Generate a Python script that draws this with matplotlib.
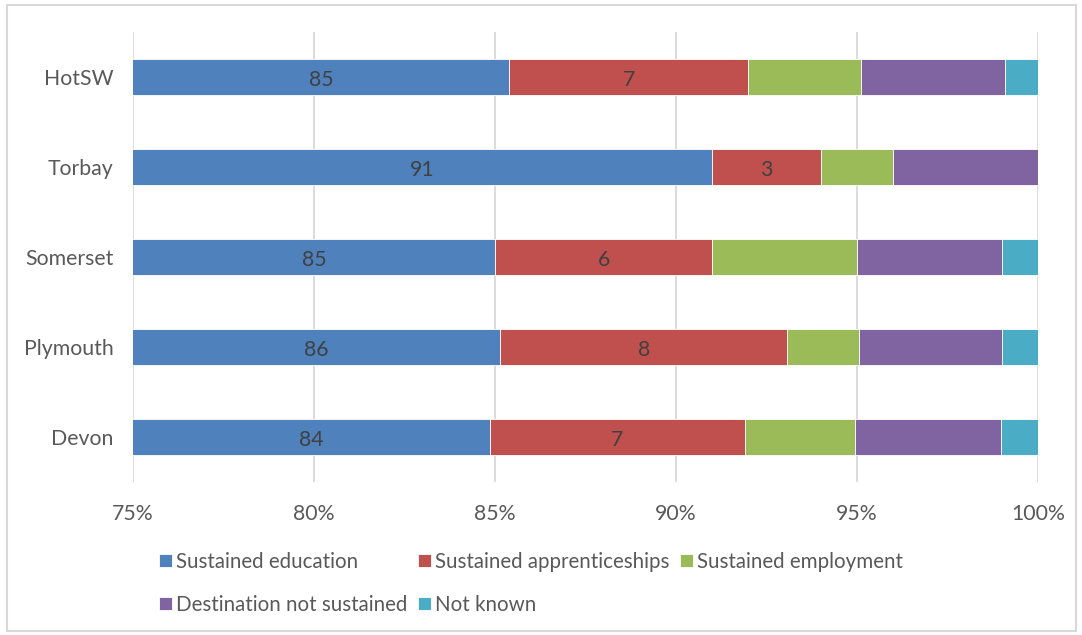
import matplotlib
matplotlib.use("Agg")
import matplotlib.pyplot as plt
from matplotlib.patches import Rectangle
import numpy as np

plt.rcParams['font.family'] = ['Lato', 'DejaVu Sans']

# Local authority areas (bottom to top)
areas = ["Devon", "Plymouth", "Somerset", "Torbay", "HotSW"]

# Destination percentages per area
education = [84, 86, 85, 91, 85.4]
apprenticeships = [7, 8, 6, 3, 6.6]
employment = [3, 2, 4, 2, 3.1]
not_sustained = [4, 4, 4, 4, 4.0]
not_known = [1, 1, 1, 0, 0.9]

series_names = ["Sustained education", "Sustained apprenticeships",
                "Sustained employment", "Destination not sustained", "Not known"]
series_colors = ["#4F81BD", "#C0504D", "#9BBB59", "#8064A2", "#4BACC6"]
labelled = [True, True, False, False, False]

x_ticks = [75, 80, 85, 90, 95, 100]
X_MIN, X_MAX = 75, 100
FS = 15.3
LEG_FS = 14.8

raw = np.array([education, apprenticeships, employment, not_sustained, not_known], dtype=float)
totals = raw.sum(axis=0)
shares = raw / totals * 100.0

fig = plt.figure(figsize=(10.82, 6.35), dpi=100)
ax = fig.add_axes([133 / 1082, 153 / 635, 905 / 1082, 450 / 635])

y = np.arange(len(areas))
left = np.zeros(len(areas))
handles = []
for vals, pct, name, col, lab in zip(raw, shares, series_names, series_colors, labelled):
    bars = ax.barh(y, pct, left=left, height=0.4, color=col, edgecolor="white",
                   linewidth=0.6, label=name, zorder=3)
    handles.append(bars)
    if lab:
        for yi, l, w, v in zip(y, left, pct, vals):
            # centre the label on the visible part of the segment
            lo = max(l, X_MIN)
            hi = min(l + w, X_MAX)
            ax.text((lo + hi) / 2, yi - 0.03, f"{v:.0f}", ha="center", va="center",
                    fontsize=FS, color="#404040", zorder=4)
    left = left + pct

ax.set_xlim(X_MIN, X_MAX)
ax.set_ylim(-0.5, len(areas) - 0.5)
ax.set_xticks(x_ticks)
ax.set_xticklabels([f"{t}%" for t in x_ticks])
ax.set_yticks(y)
ax.set_yticklabels(areas)
ax.tick_params(axis="x", length=0, pad=16, labelsize=FS, labelcolor="#595959")
ax.tick_params(axis="y", length=0, pad=14, labelsize=FS, labelcolor="#595959")
for s in ax.spines.values():
    s.set_visible(False)
ax.grid(axis="x", color="#D9D9D9", linewidth=1.3, zorder=0)
ax.set_axisbelow(True)

# Legend laid out in rows: education / apprenticeships / employment, then the rest
order = [0, 3, 1, 4, 2]
leg = fig.legend([handles[i] for i in order], [series_names[i] for i in order],
                 ncol=3, loc="upper left", bbox_to_anchor=(159 / 1082, 1 - 552 / 635),
                 frameon=False, fontsize=LEG_FS, handlelength=0.62, handleheight=0.62,
                 handletextpad=0.22, columnspacing=0.5, labelspacing=1.12,
                 borderaxespad=0, borderpad=0)
for t in leg.get_texts():
    t.set_color("#595959")

# Outer chart border
fig.patches.append(Rectangle((7 / 1082, 4 / 635), 1069 / 1082, 626 / 635,
                             transform=fig.transFigure, fill=False,
                             edgecolor="#D9D9D9", linewidth=1.5))

fig.savefig("out.png", dpi=100)
